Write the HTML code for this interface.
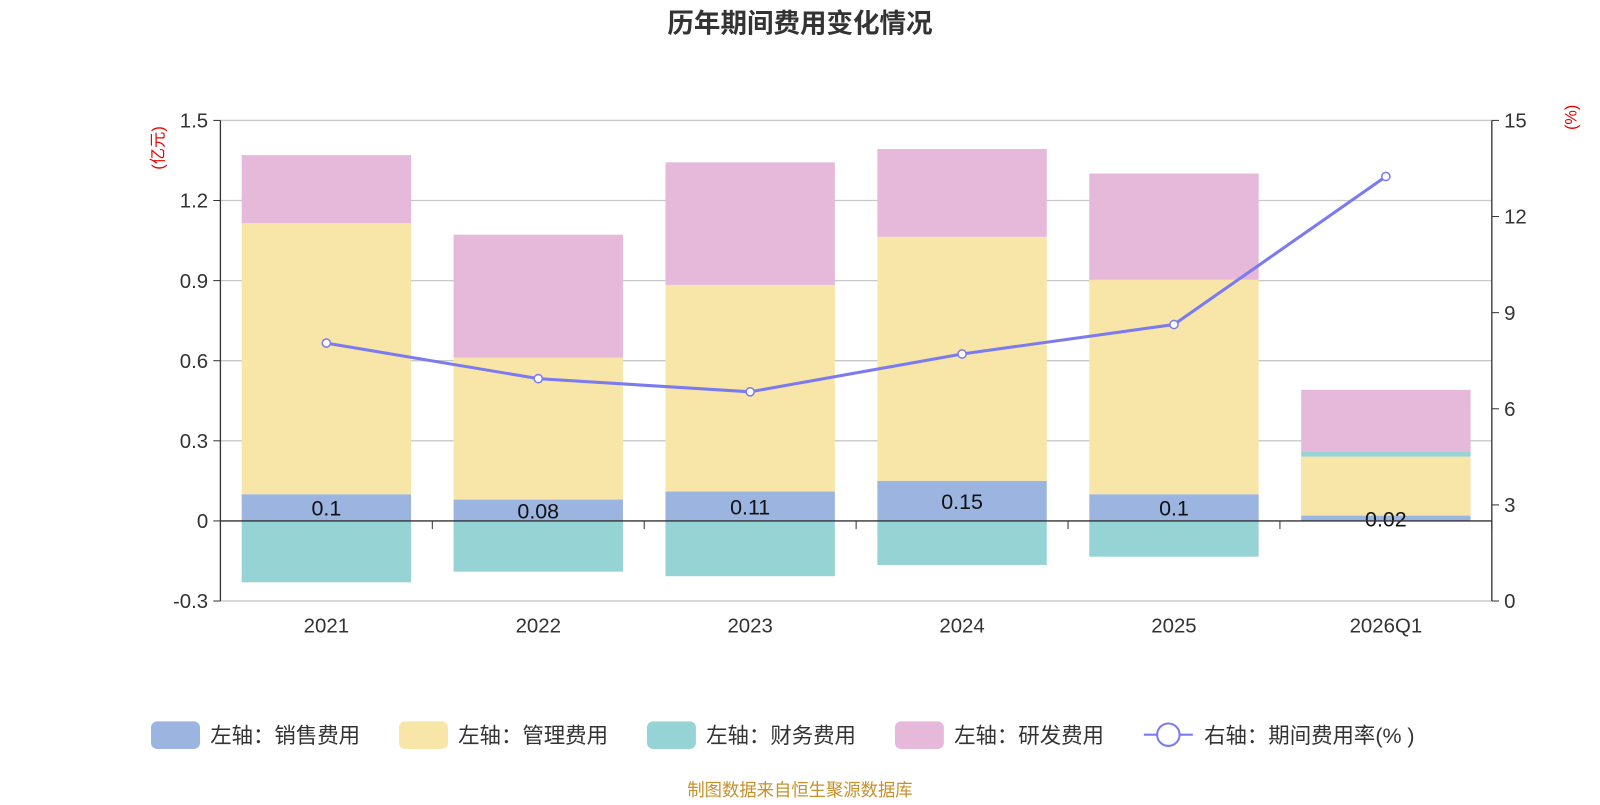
<!DOCTYPE html>
<html><head><meta charset="utf-8"><style>
body{margin:0;background:#fff;font-family:"Liberation Sans","Noto Sans CJK SC",sans-serif}
</style></head><body>
<svg id="c" width="1600" height="800" viewBox="0 0 1568 784" xmlns="http://www.w3.org/2000/svg" font-family="Liberation Sans, Noto Sans CJK SC, sans-serif">
<text x="784" y="32" text-anchor="middle" font-size="26" font-weight="bold" fill="#333">历年期间费用变化情况</text>
<text x="160" y="145" font-size="16" fill="#e00" transform="rotate(-90 160 145)" text-anchor="middle">(亿元)</text>
<text x="1545" y="115" font-size="16" fill="#e00" transform="rotate(-90 1545 115)" text-anchor="middle">(%)</text>
<g id="grid"></g><g id="bars"></g><g id="axes"></g><g id="line"></g>
<g id="legend" font-size="21" fill="#333"></g>
<text x="784" y="780" text-anchor="middle" font-size="17" fill="#c8902a">制图数据来自恒生聚源数据库</text>
</svg>
<script>
const categories=["2021","2022","2023","2024","2025","2026Q1"];
const sales=[0.1,0.08,0.11,0.15,0.1,0.02];
const mgmt=[1.015,0.532,0.774,0.914,0.803,0.221];
const fin=[-0.23,-0.19,-0.207,-0.165,-0.134,0.02];
const rd=[0.255,0.46,0.459,0.329,0.398,0.23];
const rate=[8.05,6.94,6.53,7.71,8.63,13.25];
const leftTicks=[-0.3,0,0.3,0.6,0.9,1.2,1.5];
const rightTicks=[0,3,6,9,12,15];
const X0=216,X1=1462,YT=118,YB=589;
const yL=v=>YB-(v+0.3)/1.8*(YB-YT);
const yR=v=>YB-v/15*(YB-YT);
const bw=(X1-X0)/categories.length;
const xC=i=>X0+bw*(i+0.5);
const NS="http://www.w3.org/2000/svg";
function mk(p,t,a){const e=document.createElementNS(NS,t);for(const k in a)e.setAttribute(k,a[k]);document.getElementById(p).appendChild(e);return e;}
leftTicks.forEach(v=>{
 if(v!==0){const g=mk('grid','line',{x1:X0,x2:X1,y1:yL(v),y2:yL(v),stroke:'#c8c8c8','stroke-width':1.3});
 
 }
 const t=mk('axes','text',{x:204,y:yL(v)+7,'text-anchor':'end','font-size':20,fill:'#333'});t.textContent=v===0?'0':v.toFixed(1);
 
 
 mk('axes','line',{x1:X0-7,x2:X0,y1:yL(v),y2:yL(v),stroke:'#333'});
});
rightTicks.forEach(v=>{
 const t=mk('axes','text',{x:1474,y:yR(v)+7,'font-size':20,fill:'#333'});t.textContent=v;
 
 
 mk('axes','line',{x1:X1,x2:X1+7,y1:yR(v),y2:yR(v),stroke:'#333'});
});
const cols={s:'#9bb5e0',m:'#f7e6a8',f:'#96d3d4',r:'#e6b8d9'};
categories.forEach((c,i)=>{
 const x=xC(i)-83,w=166;
 let pos=0,neg=0;
 const seg=(v,col,name)=>{let y1,y2;if(v>=0){y1=pos;y2=pos+v;pos=y2;}else{y1=neg;y2=neg+v;neg=y2;}
  const r=mk('bars','rect',{x:x,width:w,y:Math.min(yL(y1),yL(y2)),height:Math.abs(yL(y1)-yL(y2)),fill:col});
  
  };
 seg(sales[i],cols.s,'sales');seg(mgmt[i],cols.m,'mgmt');seg(fin[i],cols.f,'finance');seg(rd[i],cols.r,'rd');
 const t=mk('bars','text',{x:xC(i),y:(yL(0)+yL(sales[i]))/2+8,'text-anchor':'middle','font-size':21,fill:'#111'});t.textContent=sales[i];
 
 
 const xl=mk('axes','text',{x:xC(i),y:620,'text-anchor':'middle','font-size':20,fill:'#333'});xl.textContent=c;
 
 
 mk('axes','line',{x1:X0+bw*(i+1),x2:X0+bw*(i+1),y1:yL(0),y2:yL(0)+8,stroke:'#333'});
});
mk('axes','line',{x1:X0,x2:X1,y1:yL(0),y2:yL(0),stroke:'#333','stroke-width':1.3});
mk('axes','line',{x1:X0,x2:X1,y1:YB,y2:YB,stroke:'#c8c8c8','stroke-width':1.3});
mk('axes','line',{x1:X0,x2:X0,y1:YT,y2:YB,stroke:'#333','stroke-width':1.3});
mk('axes','line',{x1:X1,x2:X1,y1:YT,y2:YB,stroke:'#333','stroke-width':1.3});
const pl=mk('line','polyline',{points:rate.map((v,i)=>xC(i)+','+yR(v)).join(' '),fill:'none',stroke:'#7b7bef','stroke-width':3});


rate.forEach((v,i)=>{const p=mk('line','circle',{cx:xC(i),cy:yR(v),r:4,fill:'#fff',stroke:'#7b7bef','stroke-width':1.5});
 
 });
const leg=[['左轴：销售费用',cols.s,148],['左轴：管理费用',cols.m,391],['左轴：财务费用',cols.f,634],['左轴：研发费用',cols.r,877]];
leg.forEach(l=>{const r=mk('legend','rect',{x:l[2],y:707,width:48,height:27,rx:6,fill:l[1]});
 
 
 const t=mk('legend','text',{x:l[2]+58,y:728});t.textContent=l[0];
 
 });
mk('legend','line',{x1:1121,x2:1169,y1:720,y2:720,stroke:'#7b7bef','stroke-width':2});
mk('legend','circle',{cx:1145,cy:720,r:11,fill:'#fff',stroke:'#7b7bef','stroke-width':2});
const lt=mk('legend','text',{x:1180,y:728});lt.textContent='右轴：期间费用率(% )';


</script>
</body></html>
